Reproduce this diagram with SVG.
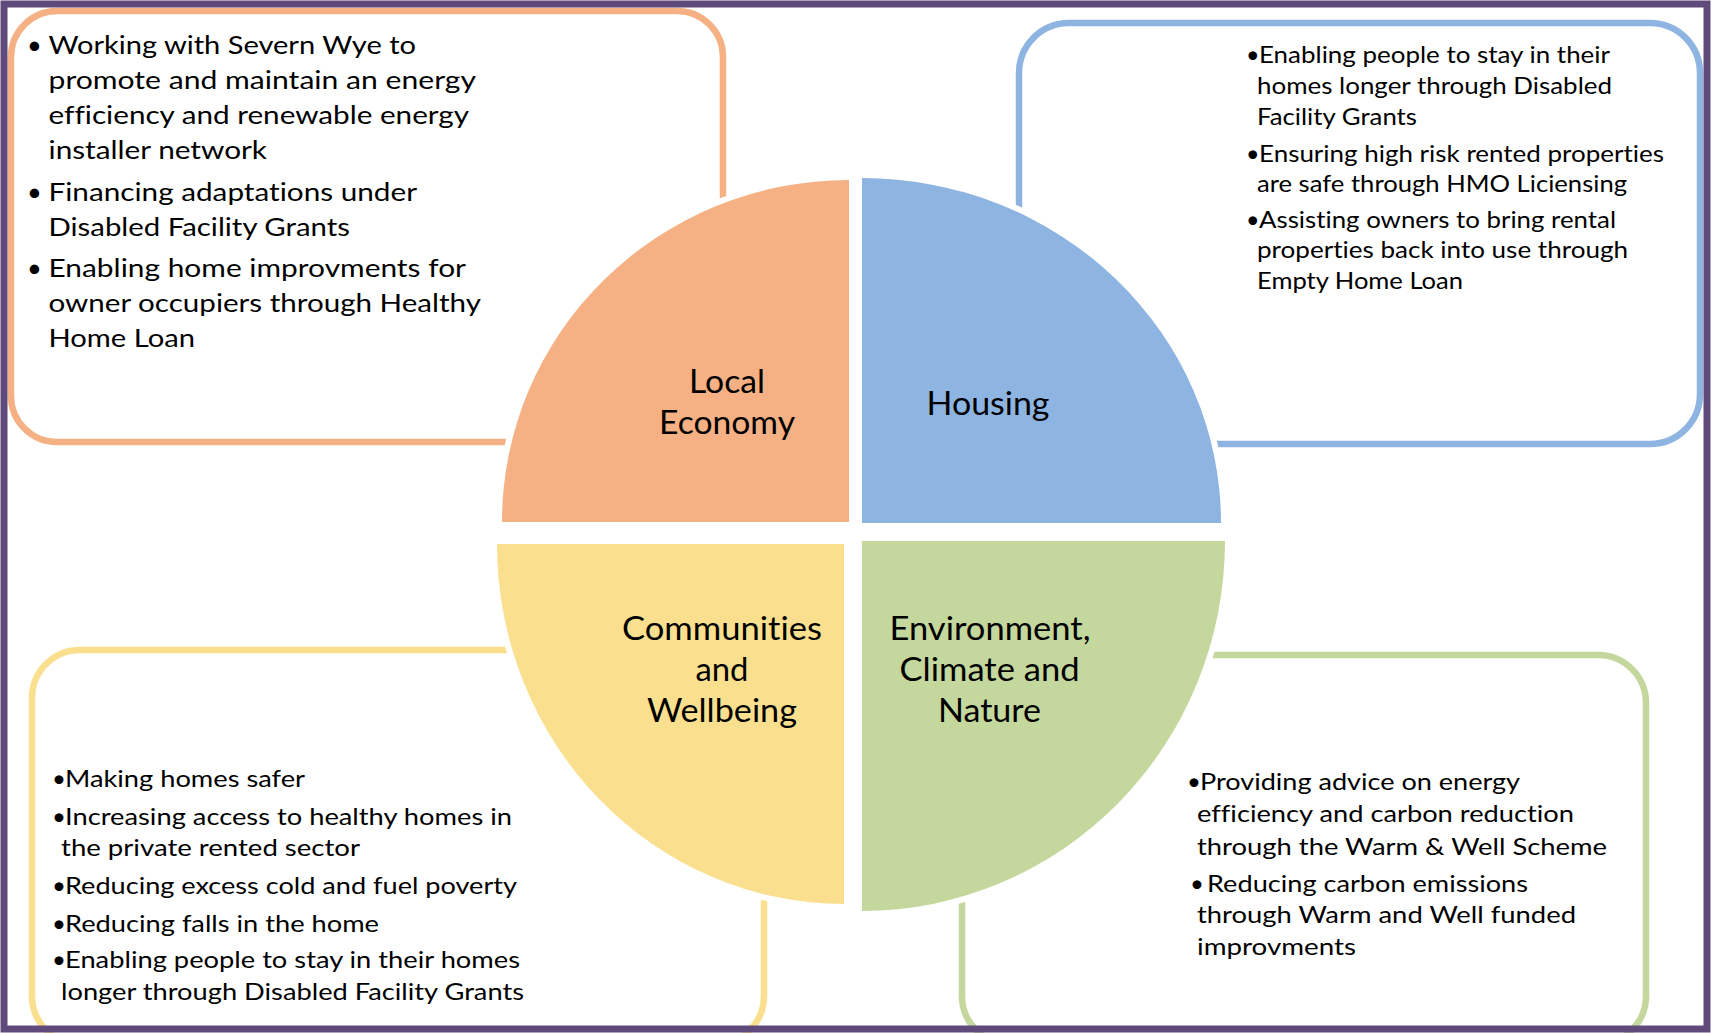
<svg xmlns="http://www.w3.org/2000/svg" width="1711" height="1033" viewBox="0 0 1711 1033">
  <style>
    .box { fill: #ffffff; stroke-width: 6.5; }
    .q { stroke: #ffffff; stroke-width: 12; paint-order: stroke; stroke-linejoin: round; }
    .t, .lg { font-family: Lato, "Liberation Sans", sans-serif; fill: #000000; font-variant-ligatures: none; font-feature-settings: "liga" 0, "clig" 0, "dlig" 0; }
    .lg { font-size: 33.5px; text-anchor: middle; }
  </style>
  <rect x="0" y="0" width="1711" height="1033" fill="#ffffff"/>

  <!-- Local Economy -->
  <g id="local-economy">
    <rect class="box" x="11" y="11" width="712" height="431" rx="46" stroke="#F5B183"/>
    <g class="t" font-size="25.5">
      <text x="27" y="54">•</text>
      <text x="27" y="201">•</text>
      <text x="27" y="277">•</text>
      <text x="48.5" y="54" textLength="367.5" lengthAdjust="spacingAndGlyphs">Working with Severn Wye to</text>
      <text x="48.5" y="89" textLength="427.5" lengthAdjust="spacingAndGlyphs">promote and maintain an energy</text>
      <text x="48.5" y="124" textLength="420.5" lengthAdjust="spacingAndGlyphs">efficiency and renewable energy</text>
      <text x="48.5" y="159" textLength="218.5" lengthAdjust="spacingAndGlyphs">installer network</text>
      <text x="48.5" y="201" textLength="368.5" lengthAdjust="spacingAndGlyphs">Financing adaptations under</text>
      <text x="48.5" y="236" textLength="301.5" lengthAdjust="spacingAndGlyphs">Disabled Facility Grants</text>
      <text x="48.5" y="277" textLength="417.5" lengthAdjust="spacingAndGlyphs">Enabling home improvments for</text>
      <text x="48.5" y="312" textLength="432.5" lengthAdjust="spacingAndGlyphs">owner occupiers through Healthy</text>
      <text x="48.5" y="347" textLength="146.5" lengthAdjust="spacingAndGlyphs">Home Loan</text>
    </g>
    <path class="q" fill="#F5B183" d="M849,522 L502,522 A347,342 0 0 1 849,180 Z"/>
    <text class="lg" x="727" y="393" textLength="76" lengthAdjust="spacingAndGlyphs">Local</text>
    <text class="lg" x="727" y="434" textLength="136" lengthAdjust="spacingAndGlyphs">Economy</text>
  </g>

  <!-- Housing -->
  <g id="housing">
    <rect class="box" x="1019" y="23" width="681" height="421" rx="50" stroke="#8EB4E2"/>
    <g class="t" font-size="23.3">
      <text x="1246" y="63">•</text>
      <text x="1246" y="162">•</text>
      <text x="1246" y="228">•</text>
      <text x="1259" y="63" textLength="351" lengthAdjust="spacingAndGlyphs">Enabling people to stay in their</text>
      <text x="1257" y="94" textLength="355" lengthAdjust="spacingAndGlyphs">homes longer through Disabled</text>
      <text x="1257" y="125" textLength="160" lengthAdjust="spacingAndGlyphs">Facility Grants</text>
      <text x="1259" y="162" textLength="405" lengthAdjust="spacingAndGlyphs">Ensuring high risk rented properties</text>
      <text x="1257" y="192" textLength="370" lengthAdjust="spacingAndGlyphs">are safe through HMO Liciensing</text>
      <text x="1259" y="228" textLength="357" lengthAdjust="spacingAndGlyphs">Assisting owners to bring rental</text>
      <text x="1257" y="258" textLength="371" lengthAdjust="spacingAndGlyphs">properties back into use through</text>
      <text x="1257" y="289" textLength="206" lengthAdjust="spacingAndGlyphs">Empty Home Loan</text>
    </g>
    <path class="q" fill="#8EB4E2" d="M862,523 L862,178 A359,345 0 0 1 1221,523 Z"/>
    <text class="lg" x="988" y="414.5" textLength="123" lengthAdjust="spacingAndGlyphs">Housing</text>
  </g>

  <!-- Communities and Wellbeing -->
  <g id="communities-wellbeing">
    <rect class="box" x="32" y="650" width="732" height="394" rx="48" stroke="#FAE08E"/>
    <g class="t" font-size="24">
      <text x="52" y="787">•</text>
      <text x="52" y="825">•</text>
      <text x="52" y="894">•</text>
      <text x="52" y="932">•</text>
      <text x="52" y="968">•</text>
      <text x="65" y="787" textLength="240" lengthAdjust="spacingAndGlyphs">Making homes safer</text>
      <text x="65" y="825" textLength="447" lengthAdjust="spacingAndGlyphs">Increasing access to healthy homes in</text>
      <text x="61" y="856" textLength="299" lengthAdjust="spacingAndGlyphs">the private rented sector</text>
      <text x="65" y="894" textLength="452" lengthAdjust="spacingAndGlyphs">Reducing excess cold and fuel poverty</text>
      <text x="65" y="932" textLength="314" lengthAdjust="spacingAndGlyphs">Reducing falls in the home</text>
      <text x="65" y="968" textLength="455" lengthAdjust="spacingAndGlyphs">Enabling people to stay in their homes</text>
      <text x="61" y="1000" textLength="463" lengthAdjust="spacingAndGlyphs">longer through Disabled Facility Grants</text>
    </g>
    <path class="q" fill="#FAE08E" d="M844,544 L844,904 A347,360 0 0 1 497,544 Z"/>
    <text class="lg" x="722" y="640" textLength="200" lengthAdjust="spacingAndGlyphs">Communities</text>
    <text class="lg" x="722" y="681" textLength="53" lengthAdjust="spacingAndGlyphs">and</text>
    <text class="lg" x="722" y="722" textLength="150" lengthAdjust="spacingAndGlyphs">Wellbeing</text>
  </g>

  <!-- Environment, Climate and Nature -->
  <g id="environment-climate-nature">
    <rect class="box" x="962" y="655" width="684" height="389" rx="48" stroke="#C4D79C"/>
    <g class="t" font-size="24">
      <text x="1187" y="790">•</text>
      <text x="1190" y="892">•</text>
      <text x="1200" y="790" textLength="320" lengthAdjust="spacingAndGlyphs">Providing advice on energy</text>
      <text x="1197" y="822" textLength="377" lengthAdjust="spacingAndGlyphs">efficiency and carbon reduction</text>
      <text x="1197" y="855" textLength="410" lengthAdjust="spacingAndGlyphs">through the Warm &amp; Well Scheme</text>
      <text x="1207" y="892" textLength="321" lengthAdjust="spacingAndGlyphs">Reducing carbon emissions</text>
      <text x="1197" y="923" textLength="379" lengthAdjust="spacingAndGlyphs">through Warm and Well funded</text>
      <text x="1197" y="955" textLength="159" lengthAdjust="spacingAndGlyphs">improvments</text>
    </g>
    <path class="q" fill="#C4D79C" d="M862,541 L1225,541 A363,370 0 0 1 862,911 Z"/>
    <text class="lg" x="990" y="640" textLength="201" lengthAdjust="spacingAndGlyphs">Environment,</text>
    <text class="lg" x="989.5" y="681" textLength="180" lengthAdjust="spacingAndGlyphs">Climate and</text>
    <text class="lg" x="989.5" y="722" textLength="103" lengthAdjust="spacingAndGlyphs">Nature</text>
  </g>

  <!-- page frame -->
  <rect x="4" y="4" width="1703" height="1025" fill="none" stroke="#604A7B" stroke-width="7"/>
</svg>
